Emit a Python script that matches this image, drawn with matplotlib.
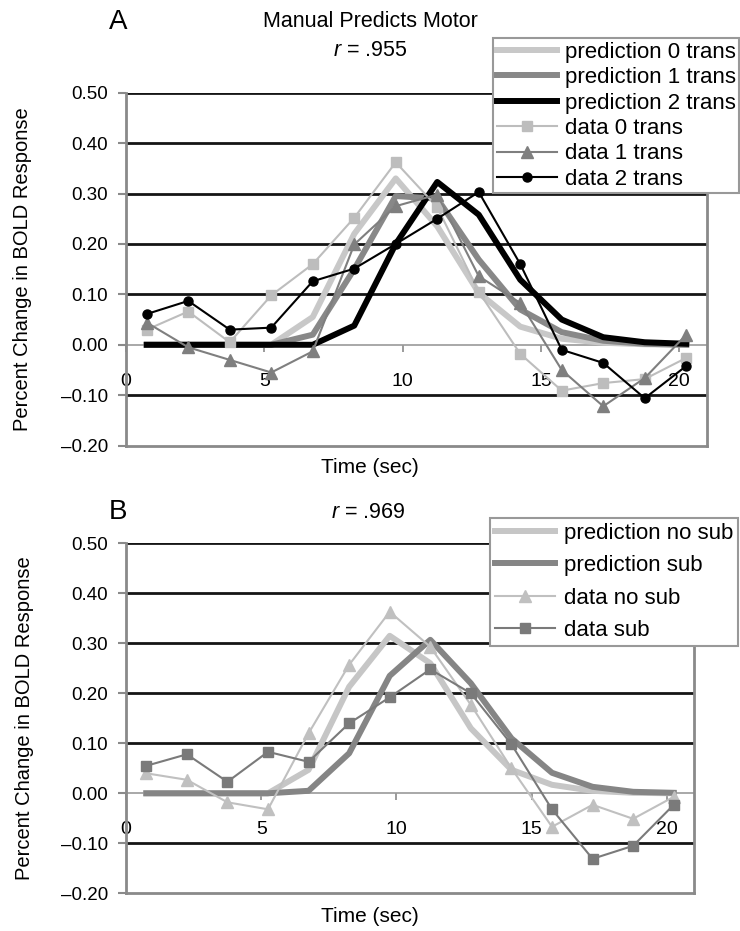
import numpy as np
import matplotlib
matplotlib.use('Agg')
import matplotlib.pyplot as plt

plt.rcParams['font.family'] = ['Liberation Sans', 'DejaVu Sans']
plt.rcParams['mathtext.fontset'] = 'custom'
plt.rcParams['mathtext.rm'] = 'Liberation Sans'
plt.rcParams['mathtext.it'] = 'Liberation Sans:italic'

# time points (sec)
time = [0.75, 2.25, 3.75, 5.25, 6.75, 8.25, 9.75, 11.25, 12.75, 14.25, 15.75, 17.25, 18.75, 20.25]

# panel A
pred_0_trans = [0, 0, 0, 0, 0.055, 0.22, 0.33, 0.235, 0.103, 0.036, 0.012, 0.004, 0.001, 0.0]
pred_1_trans = [0, 0, 0, 0, 0.02, 0.15, 0.295, 0.29, 0.169, 0.07, 0.025, 0.008, 0.002, 0.0]
pred_2_trans = [0, 0, 0, 0, 0.0, 0.038, 0.20, 0.323, 0.258, 0.129, 0.05, 0.015, 0.005, 0.002]
data_0_trans = [0.030, 0.066, 0.005, 0.098, 0.160, 0.252, 0.362, 0.273, 0.105, -0.018, -0.091, -0.076, -0.068, -0.026]
data_1_trans = [0.044, -0.005, -0.030, -0.055, -0.013, 0.199, 0.275, 0.298, 0.136, 0.083, -0.050, -0.122, -0.066, 0.020]
data_2_trans = [0.061, 0.087, 0.030, 0.034, 0.126, 0.151, 0.200, 0.250, 0.303, 0.160, -0.010, -0.036, -0.106, -0.042]

# panel B
pred_no_sub = [0, 0, 0, 0, 0.047, 0.213, 0.315, 0.26, 0.13, 0.047, 0.017, 0.005, 0.001, 0.0]
pred_sub = [0, 0, 0, 0, 0.005, 0.08, 0.235, 0.307, 0.22, 0.11, 0.041, 0.013, 0.003, 0.001]
data_no_sub = [0.040, 0.027, -0.018, -0.032, 0.120, 0.257, 0.363, 0.293, 0.177, 0.050, -0.067, -0.023, -0.051, -0.007]
data_sub = [0.055, 0.078, 0.023, 0.083, 0.063, 0.140, 0.192, 0.248, 0.200, 0.098, -0.032, -0.131, -0.105, -0.023]

yticks = [-0.2, -0.1, 0.0, 0.1, 0.2, 0.3, 0.4, 0.5]
ytick_labels = ['\u20130.20', '\u20130.10', '0.00', '0.10', '0.20', '0.30', '0.40', '0.50']
xticks = [0, 5, 10, 15, 20]

SPINE = '#8a8a8a'


def style_axes(ax):
    ax.set_xlim(0, 21)
    ax.set_ylim(-0.2, 0.5)
    ax.set_yticks(yticks)
    ax.set_yticklabels(ytick_labels, fontsize=13.5)
    ax.tick_params(axis='y', direction='out', length=6, width=1.5, color=SPINE, pad=7)
    ax.set_xticks([])
    ax.spines['top'].set_visible(False)
    for s in ['left', 'right', 'bottom']:
        ax.spines[s].set_color(SPINE)
        ax.spines[s].set_linewidth(2)
    ax.set_axisbelow(True)
    ax.yaxis.grid(True, color='#151515', lw=2)
    for tick in ax.yaxis.get_major_ticks():
        loc = tick.get_loc()
        if abs(loc) < 1e-9 or abs(loc + 0.2) < 1e-9:
            tick.gridline.set_visible(False)
    # horizontal axis crossing at zero, Excel style
    sec = ax.secondary_xaxis(0.2 / 0.7)
    sec.set_xticks(xticks)
    sec.set_xticklabels([str(v) for v in xticks], fontsize=14)
    sec.tick_params(direction='out', length=5, width=1.2, color=SPINE, pad=15)
    sec.spines['bottom'].set_color('#9a9a9a')
    sec.spines['bottom'].set_linewidth(1.2)
    ax.set_ylabel('Percent Change in BOLD Response', fontsize=14.5)
    ax.yaxis.set_label_coords(-0.162, 0.5)


fig = plt.figure(figsize=(7.4, 9.31), dpi=100)
axA = fig.add_axes([0.17027, 0.52137, 0.78514, 0.37905])
axB = fig.add_axes([0.17027, 0.04049, 0.76757, 0.37594])

for ax in (axA, axB):
    style_axes(ax)

# panel A
axA.plot(time, pred_0_trans, color='#c8c8c8', lw=4.3, label='prediction 0 trans')
axA.plot(time, pred_1_trans, color='#888888', lw=4.3, label='prediction 1 trans')
axA.plot(time, pred_2_trans, color='black', lw=4.3, label='prediction 2 trans')
axA.plot(time, data_0_trans, color='#bdbdbd', lw=1.5, marker='s', ms=6.5, label='data 0 trans')
axA.plot(time, data_1_trans, color='#7f7f7f', lw=1.5, marker='^', ms=8, label='data 1 trans')
axA.plot(time, data_2_trans, color='black', lw=1.5, marker='o', ms=6.5, label='data 2 trans')

legA = axA.legend(loc='upper left', bbox_to_anchor=(493.3 / 740, 1 - 38.3 / 931),
                  bbox_transform=fig.transFigure, borderaxespad=0, fontsize=16,
                  frameon=True, fancybox=False, edgecolor='#999999', framealpha=1,
                  handlelength=2.7, handletextpad=0.36, labelspacing=0.2, borderpad=0.15,
                  numpoints=1)
legA.get_frame().set_linewidth(1.5)

# panel B
axB.plot(time, pred_no_sub, color='#c6c6c6', lw=4.3, label='prediction no sub')
axB.plot(time, pred_sub, color='#858585', lw=4.3, label='prediction sub')
axB.plot(time, data_no_sub, color='#c0c0c0', lw=1.5, marker='^', ms=8, label='data no sub')
axB.plot(time, data_sub, color='#7a7a7a', lw=1.5, marker='s', ms=7, label='data sub')

legB = axB.legend(loc='upper left', bbox_to_anchor=(490 / 740, 1 - 517.7 / 931),
                  bbox_transform=fig.transFigure, borderaxespad=0, fontsize=16,
                  frameon=True, fancybox=False, edgecolor='#999999', framealpha=1,
                  handlelength=2.7, handletextpad=0.4, labelspacing=0.52, borderpad=0.22,
                  numpoints=1)
legB.get_frame().set_linewidth(1.5)

# titles and labels
fig.text(118 / 740, 1 - 21.7 / 931, 'A', fontsize=20, ha='center', va='center')
fig.text(370 / 740, 1 - 21.7 / 931, 'Manual Predicts Motor', fontsize=15.5, ha='center', va='center')
fig.text(370 / 740, 1 - 50 / 931, '$r$ = .955', fontsize=15.5, ha='center', va='center')
fig.text(370 / 740, 1 - 468 / 931, 'Time (sec)', fontsize=15, ha='center', va='center')

fig.text(118 / 740, 1 - 511.7 / 931, 'B', fontsize=20, ha='center', va='center')
fig.text(368 / 740, 1 - 513 / 931, '$r$ = .969', fontsize=15.5, ha='center', va='center')
fig.text(370 / 740, 1 - 916 / 931, 'Time (sec)', fontsize=15, ha='center', va='center')

fig.savefig('out.png', dpi=100)
